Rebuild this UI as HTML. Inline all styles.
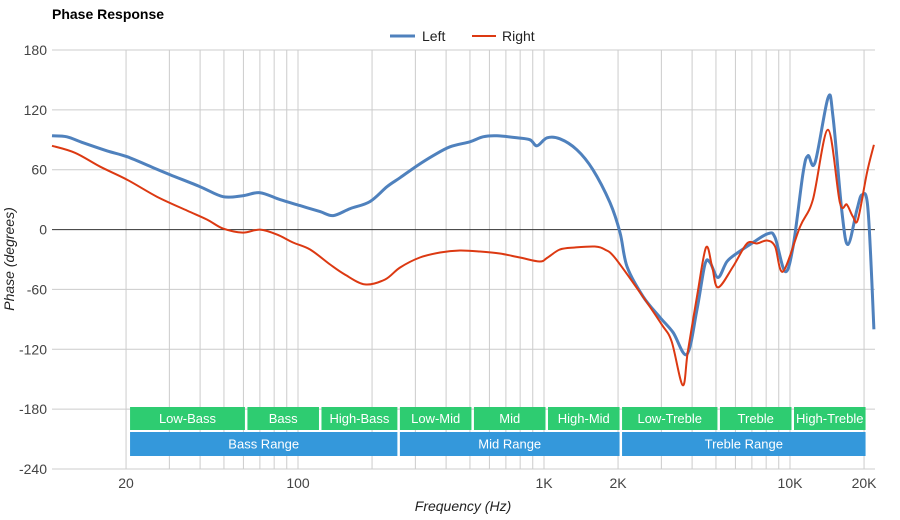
<!DOCTYPE html>
<html><head><meta charset="utf-8"><style>
body{margin:0;background:#fff;}
svg{display:block;font-family:"Liberation Sans",Arial,sans-serif;}
</style></head><body>
<svg id="chart" width="900" height="520" viewBox="0 0 900 520">
<text x="52" y="19" font-size="14" font-weight="bold" fill="#000">Phase Response</text>
<g>
<g><line x1="390" y1="36" x2="415" y2="36" stroke="#4f81bd" stroke-width="3"/><text x="422" y="41" font-size="14" fill="#222">Left</text></g>
<g><line x1="472" y1="36" x2="496" y2="36" stroke="#dc3912" stroke-width="2"/><text x="502" y="41" font-size="14" fill="#222">Right</text></g>
</g>
<g id="grid"></g>
<g id="bands"></g>
<g id="series"></g>
<g id="yticks"></g>
<g id="xticks"></g>
<text x="463" y="511" font-size="14" font-style="italic" fill="#222" text-anchor="middle">Frequency (Hz)</text>
<text transform="translate(14,259) rotate(-90)" font-size="14" font-style="italic" fill="#222" text-anchor="middle">Phase (degrees)</text>
</svg>
<script>
const yTicks=[180,120,60,0,-60,-120,-180,-240];
const xTickVals=[20,100,1000,2000,10000,20000];
const xTickLabels=["20","100","1K","2K","10K","20K"];
const gridFreqs=[20,30,40,50,60,70,80,90,100,200,300,400,500,600,700,800,900,1000,2000,3000,4000,5000,6000,7000,8000,9000,10000,20000];
const leftFreq=[10,11.5,13.4,16.7,20.2,25.8,30.2,40,49.6,59.7,70.1,84.5,102,123,139,163,196,230,260,305,354,415,500,565,644,776,877,937,1029,1161,1361,1581,1854,2037,2175,2525,2962,3345,3811,4188,4510,4729,5097,5546,6149,7079,8147,8696,9550,10290,11300,11840,12640,14270,14960,16270,17210,18720,19630,20760,21940];
const leftPhase=[94,93,87,79,73,62,55,43,33,34,37,30,24,18,14,21,28,43,52,64,74,83,88,93,94,92,90,84,92,91,80,60,27,-3,-37,-67,-88,-103,-125,-80,-35,-33,-48,-32,-23,-13,-4,-8,-42,-17,57,74,67,132,113,17,-15,20,35,20,-100];
const rightFreq=[10,12.4,15.7,20.2,26.7,35.4,42.7,49.6,59.7,70.1,82.2,95.4,112,135,155,187,226,260,313,378,455,549,661,798,961,1035,1161,1336,1609,1766,1938,2455,3007,3300,3662,3840,4188,4556,4822,5097,5871,6688,7346,8070,8696,9372,10990,12390,14270,15950,17030,18010,18880,20550,21940];
const rightPhase=[84,77,63,50,33,19,10,1,-3,0,-5,-13,-20,-35,-45,-55,-50,-38,-28,-23,-21,-22,-24,-28,-32,-28,-20,-18,-17,-20,-28,-63,-95,-112,-156,-123,-67,-18,-37,-58,-37,-14,-14,-11,-17,-42,3,30,100,27,25,13,10,57,85];
const bandNames=["Low-Bass","Bass","High-Bass","Low-Mid","Mid","High-Mid","Low-Treble","Treble","High-Treble"];
const bandLo=[20,60,120,250,500,1000,2000,5000,10000];
const bandHi=[60,120,250,500,1000,2000,5000,10000,20000];
const rangeNames=["Bass Range","Mid Range","Treble Range"];
const rangeLo=[20,250,2000];
const rangeHi=[250,2000,20000];

const NS="http://www.w3.org/2000/svg";
const X0=52,X1=875,Y0=50,Y1=469;
function xs(f){return 298+246*Math.log10(f/100);}
function ys(v){return Y0+(180-v)*(Y1-Y0)/420;}
function mk(tag,attrs,parent){const e=document.createElementNS(NS,tag);for(const k in attrs)e.setAttribute(k,attrs[k]);parent.appendChild(e);return e;}
const grid=document.getElementById('grid');
gridFreqs.forEach(f=>{
  const l=mk('line',{x1:xs(f),x2:xs(f),y1:Y0,y2:Y1,stroke:'#ccc','stroke-width':1},grid);
  
  
});
const yt=document.getElementById('yticks');
yTicks.forEach(v=>{
  const l=mk('line',{x1:X0,x2:X1,y1:ys(v),y2:ys(v),stroke:v===0?'#333':'#ccc','stroke-width':1},grid);
  
  
  const t=mk('text',{x:47,y:ys(v)+5,'font-size':14,fill:'#444','text-anchor':'end'},yt);
  t.textContent=String(v);
  
  
});
const xt=document.getElementById('xticks');
xTickVals.forEach((f,i)=>{
  const t=mk('text',{x:xs(f),y:488,'font-size':14,fill:'#444','text-anchor':'middle'},xt);
  t.textContent=xTickLabels[i];
  
  
});
const bands=document.getElementById('bands');
function band(lo,hi,name,y,h,color){
  const g=mk('g',{},bands);
  
  
  const x=xs(lo)+4,w=xs(hi)-xs(lo)-2.5;
  mk('rect',{x:x,y:y,width:w,height:h,fill:color},g);
  const t=mk('text',{x:x+w/2,y:y+h/2+4.5,'font-size':13,fill:'#fff','text-anchor':'middle'},g);
  t.textContent=name;
}
bandNames.forEach((n,i)=>band(bandLo[i],bandHi[i],n,407,23,'#2ecc71'));
rangeNames.forEach((n,i)=>band(rangeLo[i],rangeHi[i],n,432,24,'#3498db'));
function pathFor(fr,ph){
  const p=fr.map((f,i)=>[xs(f),ys(ph[i])]);
  let d='M'+p[0][0].toFixed(1)+','+p[0][1].toFixed(1);
  for(let i=0;i<p.length-1;i++){
    const p0=p[Math.max(0,i-1)],p1=p[i],p2=p[i+1],p3=p[Math.min(p.length-1,i+2)];
    const c1=[p1[0]+(p2[0]-p0[0])/6,p1[1]+(p2[1]-p0[1])/6];
    const c2=[p2[0]-(p3[0]-p1[0])/6,p2[1]-(p3[1]-p1[1])/6];
    d+='C'+c1[0].toFixed(1)+','+c1[1].toFixed(1)+' '+c2[0].toFixed(1)+','+c2[1].toFixed(1)+' '+p2[0].toFixed(1)+','+p2[1].toFixed(1);
  }
  return d;
}
const series=document.getElementById('series');
const lp=mk('path',{d:pathFor(leftFreq,leftPhase),fill:'none',stroke:'#4f81bd','stroke-width':3,'stroke-linejoin':'round'},series);


const rp=mk('path',{d:pathFor(rightFreq,rightPhase),fill:'none',stroke:'#dc3912','stroke-width':2,'stroke-linejoin':'round'},series);


</script>
</body></html>
